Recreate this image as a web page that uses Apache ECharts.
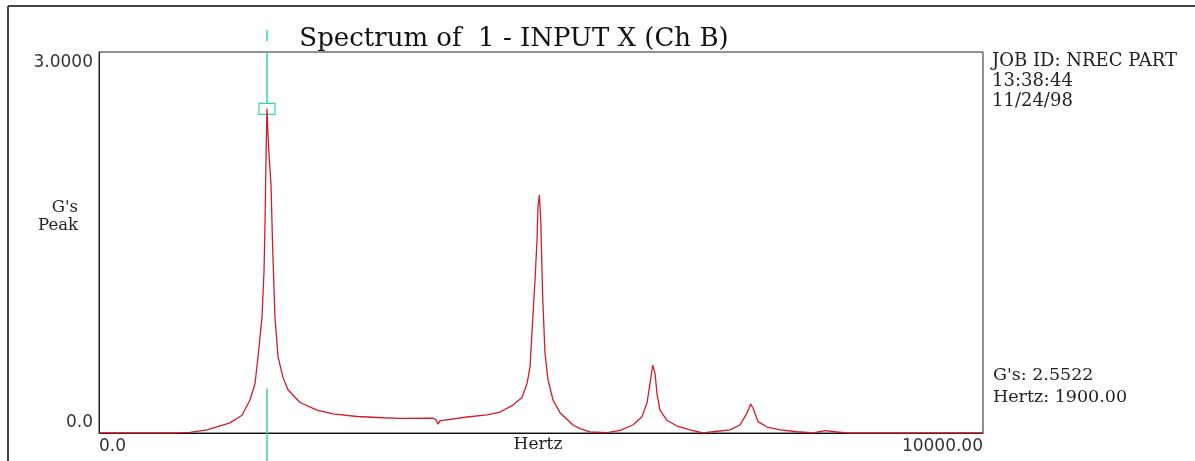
<!DOCTYPE html>
<html>
<head>
<meta charset="utf-8">
<script src="https://cdn.jsdelivr.net/npm/echarts@6/dist/echarts.min.js"></script>
<style>
html,body{margin:0;padding:0;background:#fff;}
#chart{width:1195px;height:461px;}
</style>
</head>
<body>
<div id="chart"></div>
<script>
// Frequency (Hz) and amplitude (G's Peak)
const freqs = [0, 464, 860, 1029, 1222, 1482, 1618, 1708, 1765, 1799, 1844, 1867, 1878, 1889, 1900, 1912, 1923, 1946, 1965, 1991, 2025, 2081, 2138, 2274, 2466, 2647, 2919, 3213, 3405, 3778, 3812, 3835, 3857, 3891, 4163, 4389, 4536, 4683, 4785, 4842, 4876, 4910, 4932, 4955, 4966, 4981, 4997, 5019, 5045, 5079, 5136, 5215, 5362, 5441, 5554, 5747, 5894, 6041, 6143, 6199, 6233, 6264, 6290, 6312, 6346, 6425, 6538, 6686, 6833, 6946, 7138, 7251, 7330, 7372, 7398, 7455, 7557, 7704, 7896, 8077, 8213, 8348, 8461, 10000];
const amps  = [0.0, 0.0, 0.0, 0.005, 0.024, 0.08, 0.14, 0.26, 0.39, 0.60, 0.91, 1.28, 1.65, 2.15, 2.5522, 2.35, 2.2, 1.95, 1.44, 0.91, 0.60, 0.44, 0.34, 0.24, 0.18, 0.15, 0.13, 0.12, 0.115, 0.116, 0.105, 0.07, 0.095, 0.10, 0.126, 0.142, 0.165, 0.22, 0.28, 0.39, 0.52, 0.94, 1.20, 1.52, 1.78, 1.874, 1.68, 1.07, 0.63, 0.42, 0.26, 0.16, 0.063, 0.035, 0.008, 0.003, 0.02, 0.063, 0.13, 0.236, 0.39, 0.535, 0.47, 0.31, 0.18, 0.10, 0.055, 0.024, 0.0, 0.01, 0.024, 0.063, 0.157, 0.228, 0.197, 0.09, 0.047, 0.024, 0.01, 0.0, 0.018, 0.008, 0.0, 0.0];
const xTickLabels = ['0.0', '10000.00'];
const yTickLabels = ['0.0', '3.0000'];
const xName = 'Hertz';
const titleText = 'Spectrum of  1 - INPUT X (Ch B)';
const infoLines = ['JOB ID: NREC PART', '13:38:44', '11/24/98'];
const cursorLines = ["G's: 2.5522", 'Hertz: 1900.00'];
const yNameLines = ["G's", 'Peak'];
const cursorHz = 1900;
const cursorAmp = 2.5522;

(function () {
const chart = echarts.init(document.getElementById('chart'), null, {renderer: 'canvas'});
const serif = 'DejaVu Serif';
const sans = 'DejaVu Sans';
const cyan = '#2fd6b0';

const option = {
  animation: false,
  backgroundColor: '#ffffff',
  grid: {left: 99, right: 212, top: 52, bottom: 28, show: true, borderColor: '#222', borderWidth: 1, containLabel: false, outerBoundsMode: 'none'},
  xAxis: {
    type: 'value', min: 0, max: 10000, interval: 10000,
    axisLine: {lineStyle: {color: '#111', width: 1}},
    axisTick: {show: false}, splitLine: {show: false},
    axisLabel: {
      margin: 5, fontFamily: sans, fontSize: 17, color: '#333',
      alignMinLabel: 'left', alignMaxLabel: 'right',
      formatter: function (v) { return v === 0 ? xTickLabels[0] : xTickLabels[1]; }
    }
  },
  yAxis: {
    type: 'value', min: 0, max: 3, interval: 3,
    axisLine: {show: true, lineStyle: {color: '#222', width: 1}},
    axisTick: {show: false}, splitLine: {show: false},
    axisLabel: {
      margin: 6, color: '#333',
      formatter: function (v) { return v === 0 ? '{b|' + yTickLabels[0] + '}' : '{t|' + yTickLabels[1] + '}'; },
      rich: {
        t: {fontFamily: sans, fontSize: 17, color: '#333', padding: [22, 0, 0, 0]},
        b: {fontFamily: sans, fontSize: 17, color: '#333', padding: [0, 0, 20, 0]}
      }
    }
  },
  series: [{
    type: 'line',
    data: freqs.map((f, i) => [f, amps[i]]),
    showSymbol: false,
    lineStyle: {color: '#d21c2c', width: 1.3},
    clip: true
  }]
};
chart.setOption(option);

const p = chart.convertToPixel({gridIndex: 0}, [cursorHz, cursorAmp]);
const gTop = chart.convertToPixel({gridIndex: 0}, [0, 3])[1];
const gBot = chart.convertToPixel({gridIndex: 0}, [0, 0])[1];
const lowStart = chart.convertToPixel({gridIndex: 0}, [0, 0.35])[1];
const gRight = chart.convertToPixel({gridIndex: 0}, [10000, 0])[0];
const gMid = chart.convertToPixel({gridIndex: 0}, [5000, 0])[0];
const cx = Math.round(p[0]);

const graphics = [
  {type: 'line', shape: {x1: 8, y1: 6, x2: 1195, y2: 6}, style: {stroke: '#444', lineWidth: 2}},
  {type: 'line', shape: {x1: 8, y1: 6, x2: 8, y2: 461}, style: {stroke: '#444', lineWidth: 2}},
  {type: 'line', shape: {x1: cx, y1: gTop - 22, x2: cx, y2: gTop - 11}, style: {stroke: cyan, lineWidth: 1.5}},
  {type: 'line', shape: {x1: cx, y1: gTop, x2: cx, y2: p[1] - 5}, style: {stroke: cyan, lineWidth: 1.5}},
  {type: 'rect', shape: {x: cx - 8, y: p[1] - 5.5, width: 16, height: 11}, style: {fill: 'none', stroke: cyan, lineWidth: 1.2}},
  {type: 'line', shape: {x1: cx, y1: lowStart, x2: cx, y2: 461}, style: {stroke: cyan, lineWidth: 1.5}, z: 10},
  {type: 'text', x: 514, y: 39, style: {text: titleText, font: '26px "' + serif + '"', fill: '#111', align: 'center', verticalAlign: 'middle'}},
  {type: 'text', x: gMid - 3, y: gBot + 12, style: {text: xName, font: '17px "' + serif + '"', fill: '#222', align: 'center', verticalAlign: 'middle'}}
];
infoLines.forEach((t, i) => graphics.push({type: 'text', x: gRight + 9, y: 61 + i * 20, style: {text: t, font: '18px "' + serif + '"', fill: '#222', align: 'left', verticalAlign: 'middle'}}));
cursorLines.forEach((t, i) => graphics.push({type: 'text', x: gRight + 10, y: 375 + i * 22, style: {text: t, font: '17.5px "' + serif + '"', fill: '#222', align: 'left', verticalAlign: 'middle'}}));
yNameLines.forEach((t, i) => graphics.push({type: 'text', x: 78, y: 208 + i * 18, style: {text: t, font: '16.5px "' + serif + '"', fill: '#222', align: 'right', verticalAlign: 'middle'}}));
chart.setOption({graphic: graphics});
})();
</script>
</body>
</html>
